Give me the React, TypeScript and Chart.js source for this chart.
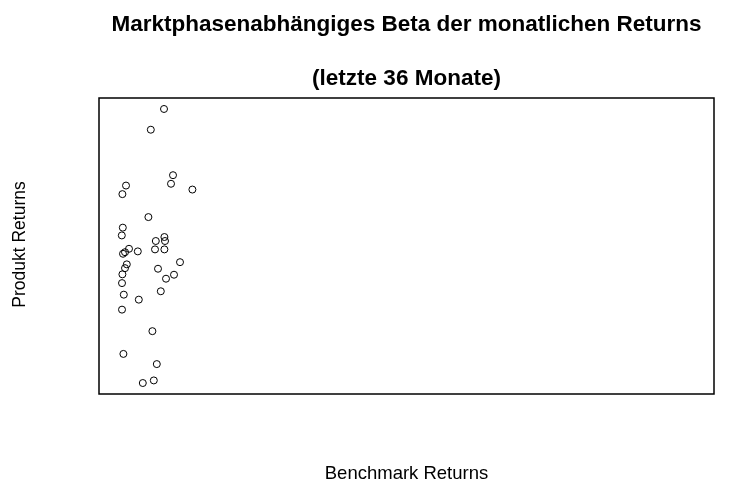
import React, { useEffect, useRef } from "react";
import { Chart, registerables } from "chart.js";

Chart.register(...registerables);

const titleLine1 = "Marktphasenabhängiges Beta der monatlichen Returns";
const titleLine2 = "(letzte 36 Monate)";
const xLabel = "Benchmark Returns";
const yLabel = "Produkt Returns";

// Benchmark returns (%)
const benchmarkReturns = [
  2.25, 1.59, 2.7, 2.6, 3.67, 0.35, 0.17, 1.47, 0.19, 0.14, 2.27, 1.84,
  2.3, 0.5, 0.3, 0.2, 0.94, 1.8, 2.27, 3.05, 0.39, 0.3, 0.17, 1.95,
  2.75, 2.35, 0.15, 2.09, 0.24, 0.99, 0.15, 1.67, 0.22, 1.89, 1.19, 1.74,
];
// Product returns (%)
const productReturns = [
  6.84, 5.8, 3.52, 3.09, 2.8, 3.0, 2.57, 1.42, 0.89, 0.5, 0.42, 0.22,
  0.22, -0.17, -0.34, -0.42, -0.3, -0.2, -0.2, -0.84, -0.95, -1.14, -1.45, -1.17,
  -1.47, -1.67, -1.89, -2.3, -2.47, -2.72, -3.22, -4.3, -5.44, -5.95, -6.9, -6.77,
];
const xLimits = [-1.0, 29.75];
const yLimits = [-7.45, 7.39];

export default function App() {
  const ref = useRef<HTMLCanvasElement | null>(null);
  useEffect(() => {
    if (!ref.current) return;
    const font = '"Liberation Sans", Arial, Helvetica, sans-serif';
    const decor = {
      id: "decor",
      afterDraw(chart: any) {
        const { ctx, chartArea } = chart;
        const cx = (chartArea.left + chartArea.right) / 2;
        const cy = (chartArea.top + chartArea.bottom) / 2;
        ctx.save();
        ctx.strokeStyle = "#000";
        ctx.lineWidth = 1.5;
        ctx.strokeRect(chartArea.left, chartArea.top, chartArea.right - chartArea.left, chartArea.bottom - chartArea.top);
        ctx.fillStyle = "#000";
        ctx.textAlign = "center";
        ctx.textBaseline = "alphabetic";
        ctx.font = `bold 22.5px ${font}`;
        ctx.fillText(titleLine1, cx, 31);
        ctx.fillText(titleLine2, cx, 85);
        ctx.font = `18.5px ${font}`;
        ctx.fillText(xLabel, cx, 479);
        ctx.font = `17.5px ${font}`;
        ctx.translate(25, 244.5);
        ctx.rotate(-Math.PI / 2);
        ctx.fillText(yLabel, 0, 0);
        ctx.restore();
      },
    };
    const chart = new Chart(ref.current, {
      type: "scatter",
      data: {
        datasets: [
          {
            data: benchmarkReturns.map((x, i) => ({ x, y: productReturns[i] })),
            pointStyle: "circle",
            pointRadius: 3.5,
            pointBorderWidth: 1,
            borderColor: "#000",
            backgroundColor: "rgba(0,0,0,0)",
          },
        ],
      },
      options: {
        animation: false,
        responsive: false,
        layout: { padding: { left: 99, right: 22, top: 98, bottom: 104 } },
        plugins: { legend: { display: false }, tooltip: { enabled: false }, title: { display: false } },
        scales: {
          x: { type: "linear", min: xLimits[0], max: xLimits[1], display: false },
          y: { type: "linear", min: yLimits[0], max: yLimits[1], display: false },
        },
      },
      plugins: [decor],
    });
    return () => chart.destroy();
  }, []);
  return (
    <div style={{ position: "fixed", left: 0, top: 0, width: 736, height: 498, background: "#fff" }}>
      <canvas ref={ref} width={736} height={498} style={{ display: "block" }} />
    </div>
  );
}
